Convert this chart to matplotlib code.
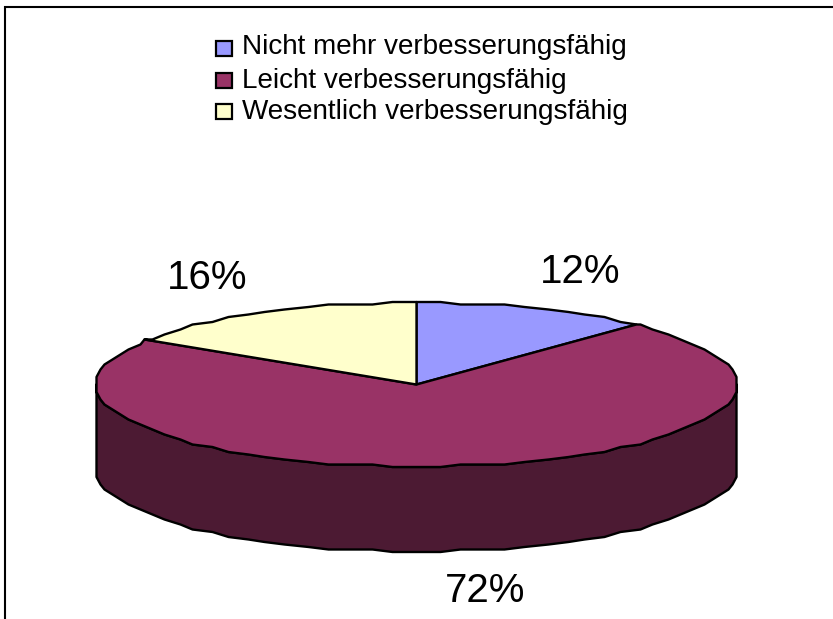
import matplotlib
matplotlib.use('Agg')
import numpy as np
import matplotlib.pyplot as plt
from matplotlib.patches import Rectangle

labels = ["Nicht mehr verbesserungsfähig", "Leicht verbesserungsfähig", "Wesentlich verbesserungsfähig"]
values = [12, 72, 16]
pct_labels = ["12%", "72%", "16%"]
colors = ['#9999FF', '#993366', '#FFFFCC']
side_color = '#4C1A33'

W, H = 833, 619
plt.rcParams['font.family'] = ['Liberation Sans', 'DejaVu Sans']

cx, cy, rx, ry, depth = 416.5, 384.5, 320, 82, 85


def rim(a0, a1):
    """Ellipse arc in pixels, angles clockwise from 12 o'clock. Snapped a bit to get the wobbly metafile look."""
    deg = np.arange(np.ceil(a0 / 4) * 4, a1, 4)
    a = np.radians(np.unique(np.r_[a0, deg, a1]))
    x = np.round(rx * np.sin(a) / 4) * 4
    y = np.round(-ry * np.cos(a) / 2.5) * 2.5
    return cx + x, cy + y


fig = plt.figure(figsize=(W / 100, H / 100), dpi=100, facecolor='white')
ax = fig.add_axes([0, 0, 1, 1])
ax.set_xlim(0, W)
ax.set_ylim(H, 0)
ax.axis('off')

# side wall first, front half of the rim only
sx, sy = rim(90, 270)
ax.fill(np.r_[sx, sx[::-1]], np.r_[sy, sy[::-1] + depth], facecolor=side_color,
        edgecolor='black', lw=1.7, joinstyle='round')

# top slices, clockwise from 12 o'clock
edges = np.cumsum([0] + values) * 3.6
for a0, a1, col in zip(edges[:-1], edges[1:], colors):
    x, y = rim(a0, a1)
    ax.fill(np.r_[cx, x], np.r_[cy, y], facecolor=col, edgecolor='black', lw=1.7, joinstyle='round')

# percent labels
label_pos = [(580, 272), (485, 591), (207.5, 278)]
for txt, (x, y) in zip(pct_labels, label_pos):
    ax.text(x, y, txt, fontsize=29, ha='center', va='center', color='black')

# frame, open at right and bottom
ax.plot([5, 5, W], [H, 6.8, 6.8], color='black', lw=1.5, solid_joinstyle='miter')

# legend
box_y = [48, 80.5, 111]
text_y = [54.5, 88, 119]
for name, col, by, ty in zip(labels, colors, box_y, text_y):
    ax.add_patch(Rectangle((216, by - 7.5), 16, 15, facecolor=col, edgecolor='black', lw=1.6))
    ax.text(242, ty, name, fontsize=20.1, ha='left', va='baseline', color='black')

plt.savefig('out.png', dpi=100)
